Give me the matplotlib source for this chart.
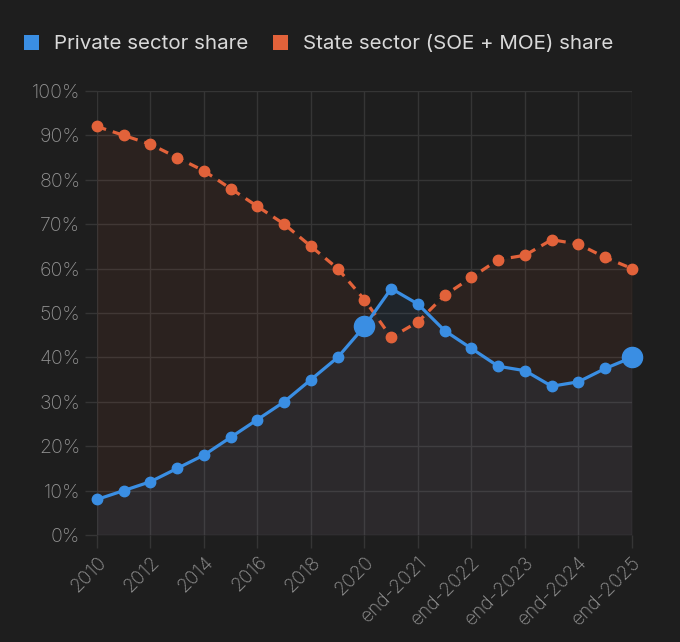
import matplotlib.pyplot as plt
from matplotlib.patches import Patch

# Categories (only every other one is labelled on the axis)
periods = ['2010', '2011', '2012', '2013', '2014', '2015', '2016', '2017', '2018', '2019',
           '2020', 'mid-2021', 'end-2021', 'mid-2022', 'end-2022', 'mid-2023', 'end-2023',
           'mid-2024', 'end-2024', 'mid-2025', 'end-2025']
private_share = [8, 10, 12, 15, 18, 22, 26, 30, 35, 40,
                 47, 55.5, 52, 46, 42, 38, 37, 33.5, 34.5, 37.5, 40]
state_share = [92, 90, 88, 85, 82, 78, 74, 70, 65, 60,
               53, 44.5, 48, 54, 58, 62, 63, 66.5, 65.5, 62.5, 60]
highlight = ['2020', 'end-2025']

bg = '#1e1e1e'
blue = '#3a8ee3'
orange = '#e2623a'
grid_c = '#353535'
tick_c = '#939393'

plt.rcParams['font.family'] = ['Inter', 'DejaVu Sans']

fig = plt.figure(figsize=(6.8, 6.42), dpi=100, facecolor=bg)
ax = fig.add_axes([0.1426, 0.1667, 0.7868, 0.6916], facecolor=bg)

x = list(range(len(periods)))

# Areas to the origin
ax.fill_between(x, state_share, 0, color=orange, alpha=0.07, linewidth=0, zorder=1)
ax.fill_between(x, private_share, 0, color=blue, alpha=0.07, linewidth=0, zorder=1)

# Lines
ax.plot(x, state_share, color=orange, linewidth=2.3, linestyle=(0, (3, 2.2)),
        marker='o', markersize=7.5, zorder=3, clip_on=False)
ax.plot(x, private_share, color=blue, linewidth=2.3,
        marker='o', markersize=7.5, zorder=4, clip_on=False)
hx = [periods.index(p) for p in highlight]
ax.plot(hx, [private_share[i] for i in hx], linestyle='none', marker='o',
        markersize=14.5, color=blue, zorder=5, clip_on=False)

# Axes
ax.set_xlim(0, len(periods) - 1)
ax.set_ylim(0, 100)
ax.set_yticks(range(0, 101, 10))
ax.set_yticklabels([f'{v}%' for v in range(0, 101, 10)])
ax.set_xticks(x[::2])
ax.set_xticklabels(periods[::2], rotation=45, ha='right', rotation_mode='anchor')

ax.grid(True, color=grid_c, linewidth=1, zorder=0)
ax.set_axisbelow(True)
ax.tick_params(axis='both', colors=grid_c, labelcolor=tick_c,
               length=9, width=1, pad=3)
ax.tick_params(axis='y', labelsize=14)
ax.tick_params(axis='x', labelsize=13.8, pad=4)
for lab in ax.get_xticklabels() + ax.get_yticklabels():
    lab.set_fontweight('light')
for s in ax.spines.values():
    s.set_visible(False)

# Legend
handles = [Patch(facecolor=blue, edgecolor='none', label='Private sector share'),
           Patch(facecolor=orange, edgecolor='none', label='State sector (SOE + MOE) share')]
fig.legend(handles=handles, loc='upper left', bbox_to_anchor=(0.008, 0.975),
           ncol=2, frameon=False, fontsize=14.8, labelcolor='#d9d9d9',
           handlelength=0.75, handleheight=0.75, handletextpad=0.7, columnspacing=1.2)

fig.savefig('out.png', dpi=100, facecolor=bg)
